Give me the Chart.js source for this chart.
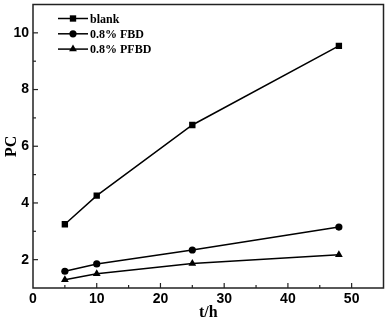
<!DOCTYPE html>
<html>
<head>
<meta charset="utf-8">
<script src="https://cdn.jsdelivr.net/npm/chart.js@4/dist/chart.umd.min.js"></script>
<style>
  html, body { margin: 0; padding: 0; background: #fff; }
  #wrap { width: 388px; height: 322px; }
</style>
</head>
<body>
<div id="wrap"><canvas id="pcChart"></canvas></div>
<script>
// data
var hours = [5, 10, 25, 48];
var blank = [3.25, 4.26, 6.75, 9.54];
var fbd = [1.59, 1.85, 2.34, 3.15];
var pfbd = [1.29, 1.50, 1.86, 2.17];
var seriesLabels = ['blank', '0.8% FBD', '0.8% PFBD'];
var seriesMarkers = ['rect', 'circle', 'triangle'];
var seriesRadius = [4.5, 3.6, 4.5];

function toPoints(ys) {
  return hours.map(function (h, i) { return { x: h, y: ys[i] }; });
}

var seriesData = [blank, fbd, pfbd];
var datasets = seriesData.map(function (ys, i) {
  return {
    label: seriesLabels[i],
    data: toPoints(ys),
    borderColor: '#000',
    backgroundColor: '#000',
    borderWidth: 1.5,
    pointStyle: seriesMarkers[i],
    pointRadius: seriesRadius[i],
    pointBorderWidth: 0,
    fill: false,
    tension: 0
  };
});

var sansBold = { family: 'Liberation Sans', size: 14, weight: 'bold' };
var serifBold = { family: 'Liberation Serif', size: 16, weight: 'bold' };

// inward ticks, frame and legend inside the plot
var framePlugin = {
  id: 'framePlugin',
  afterDraw: function (chart) {
    var ctx = chart.ctx;
    var a = chart.chartArea;
    var xs = chart.scales.x, ys = chart.scales.y;
    ctx.save();
    ctx.strokeStyle = '#222';
    ctx.lineWidth = 1.5;
    ctx.strokeRect(a.left, a.top, a.right - a.left, a.bottom - a.top);

    ctx.lineWidth = 1.2;
    xs.ticks.forEach(function (t) {
      if (t.value <= xs.min || t.value >= xs.max) return;
      var px = xs.getPixelForValue(t.value);
      var len = t.value % 10 === 0 ? 5 : 3;
      ctx.beginPath();
      ctx.moveTo(px, a.bottom);
      ctx.lineTo(px, a.bottom - len);
      ctx.stroke();
    });
    ys.ticks.forEach(function (t) {
      if (t.value <= ys.min || t.value >= ys.max) return;
      var py = ys.getPixelForValue(t.value);
      var len = t.value % 2 === 0 ? 5 : 3;
      ctx.beginPath();
      ctx.moveTo(a.left, py);
      ctx.lineTo(a.left + len, py);
      ctx.stroke();
    });

    // legend
    var lx = a.left + 25, ly = 18.5;
    ctx.font = 'bold 12px "Liberation Serif"';
    ctx.textBaseline = 'middle';
    ctx.fillStyle = '#000';
    chart.data.datasets.forEach(function (ds, i) {
      var y = ly + i * 15.3;
      ctx.strokeStyle = '#000';
      ctx.lineWidth = 1.5;
      ctx.beginPath();
      ctx.moveTo(lx, y);
      ctx.lineTo(lx + 30, y);
      ctx.stroke();
      ctx.fillStyle = '#000';
      Chart.helpers.drawPoint(ctx, {
        pointStyle: ds.pointStyle,
        radius: ds.pointRadius,
        borderWidth: 0,
        rotation: 0
      }, lx + 15, y);
      ctx.fillText(ds.label, lx + 32, y + 1);
    });
    ctx.restore();
  }
};

var pcChart = new Chart(document.getElementById('pcChart'), {
  type: 'line',
  data: { datasets: datasets },
  options: {
    animation: false,
    responsive: true,
    maintainAspectRatio: false,
    layout: { padding: { top: 0, right: 1, left: 0, bottom: 0 } },
    plugins: {
      legend: { display: false },
      tooltip: { enabled: false }
    },
    scales: {
      x: {
        type: 'linear',
        min: 0,
        max: 55,
        grid: { display: false, drawTicks: false },
        border: { display: false },
        ticks: {
          stepSize: 5,
          padding: 3,
          color: '#000',
          font: sansBold,
          maxRotation: 0,
          autoSkip: false,
          callback: function (v) { return (v % 10 === 0 && v < 55) ? v : ''; }
        },
        title: {
          display: true,
          text: 't/h',
          color: '#000',
          font: serifBold,
          padding: { top: 0, bottom: 0 }
        },
        afterFit: function (s) {
          s.height = 34;
          s.paddingLeft = 0; s.paddingRight = 0;
        }
      },
      y: {
        type: 'linear',
        min: 1,
        max: 11,
        grid: { display: false, drawTicks: false },
        border: { display: false },
        ticks: {
          stepSize: 1,
          padding: 4,
          color: '#000',
          font: sansBold,
          autoSkip: false,
          callback: function (v) { return (v % 2 === 0) ? v : ''; }
        },
        title: {
          display: true,
          text: 'PC',
          color: '#000',
          font: serifBold,
          padding: { top: 2, bottom: 0 }
        },
        afterFit: function (s) {
          s.width = 33;
          s.paddingTop = 0; s.paddingBottom = 0;
        }
      }
    }
  },
  plugins: [framePlugin]
});
</script>
</body>
</html>
